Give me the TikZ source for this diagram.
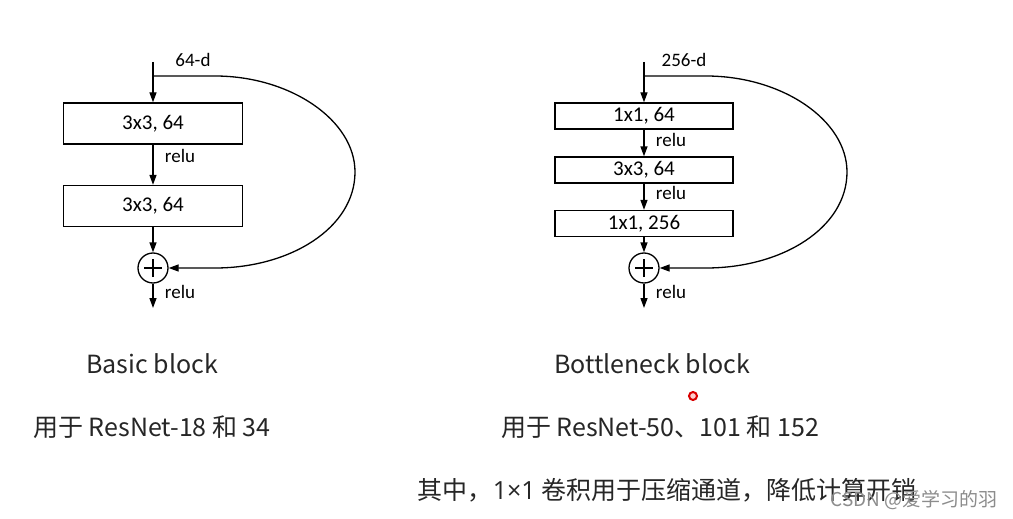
\documentclass[tikz,border=0pt]{standalone}
\usepackage{fontspec}
\setmainfont{Carlito}
\newfontfamily\cjk{Noto Sans CJK SC}
\newfontfamily\latin{Open Sans}
\usetikzlibrary{arrows.meta}

\tikzset{
	conv/.style={rectangle, draw, line width=1.3pt, inner sep=0pt, font=\fontsize{21}{24}\selectfont},
	sum/.style={circle, draw, line width=1.3pt, minimum size=30pt, inner sep=0pt,
		path picture={\draw[line width=1.3pt]
			([xshift=-9pt]path picture bounding box.center) -- ([xshift=9pt]path picture bounding box.center)
			([yshift=-9pt]path picture bounding box.center) -- ([yshift=9pt]path picture bounding box.center);}},
	lbl/.style={font=\fontsize{19}{22}\selectfont},
	captxt/.style={font=\cjk\fontsize{25}{30}\selectfont, text=black!85},
	flow/.style={-{Triangle[length=10pt,width=7pt]}, line width=1.3pt},
}

\begin{document}
\begin{tikzpicture}[x=1pt, y=-1pt]
		\useasboundingbox (0, 0) rectangle (1013, 519);
		\fill[white] (0, 0) rectangle (1013, 519);

		\draw 
		(193, 60) node [lbl] (dimA) {64-d}
		(153, 123.5) node [conv, minimum width=179pt, minimum height=41pt] (convA1) {3x3, 64}
		(153, 206) node [conv, minimum width=179pt, minimum height=41pt] (convA2) {3x3, 64}
		(153, 268) node [sum] (addA) {}
		(180, 156) node [lbl] (reluA1) {relu}
		(180, 292) node [lbl] (reluA2) {relu};
		\coordinate (inA) at (153, 62);
		\coordinate (splitA) at (153, 76);
		\coordinate (outA) at (153, 308);
		\draw[flow] (inA) -- (convA1);
		\draw[flow] (convA1) -- (convA2);
		\draw[flow] (convA2) -- (addA);
		\draw[flow] (addA) -- (outA);
		\draw[flow] (splitA) -- (215, 76) .. controls (290, 76) and (355, 120) .. (355, 172)
			.. controls (355, 228) and (290, 268) .. (215, 268) -- (addA);

		\draw 
		(684, 60) node [lbl] (dimB) {256-d}
		(644, 116) node [conv, minimum width=178pt, minimum height=26pt] (convB1) {1x1, 64}
		(644, 170) node [conv, minimum width=178pt, minimum height=26pt] (convB2) {3x3, 64}
		(644, 223.5) node [conv, minimum width=178pt, minimum height=26pt] (convB3) {1x1, 256}
		(644, 268) node [sum] (addB) {}
		(671, 140) node [lbl] (reluB1) {relu}
		(671, 193) node [lbl] (reluB2) {relu}
		(671, 292) node [lbl] (reluB3) {relu};
		\coordinate (inB) at (644, 62);
		\coordinate (splitB) at (644, 76);
		\coordinate (outB) at (644, 308);
		\draw[flow] (inB) -- (convB1);
		\draw[flow] (convB1) -- (convB2);
		\draw[flow] (convB2) -- (convB3);
		\draw[flow] (convB3) -- (addB);
		\draw[flow] (addB) -- (outB);
		\draw[flow] (splitB) -- (706, 76) .. controls (782, 76) and (847, 120) .. (847, 172)
			.. controls (847, 228) and (782, 268) .. (706, 268) -- (addB);

		\draw 
		(152, 364) node [captxt] (nameA) {Basic block}
		(652, 364) node [captxt] (nameB) {Bottleneck block}
		(152, 427) node [captxt] (useA) {用于 ResNet-18 和 34}
		(660, 427) node [captxt] (useB) {用于 ResNet-50、101 和 152}
		(667, 490) node [captxt] (note) {其中，{\latin 1×1} 卷积用于压缩通道，降低计算开销}
		(914, 500) node [font=\cjk\fontsize{19}{22}\selectfont, text=black!45] (mark) {CSDN @爱学习的羽};
		\draw[red!85!black, fill=red!20, line width=2pt] (693, 396) circle (4pt);
	\end{tikzpicture}
\end{document}
